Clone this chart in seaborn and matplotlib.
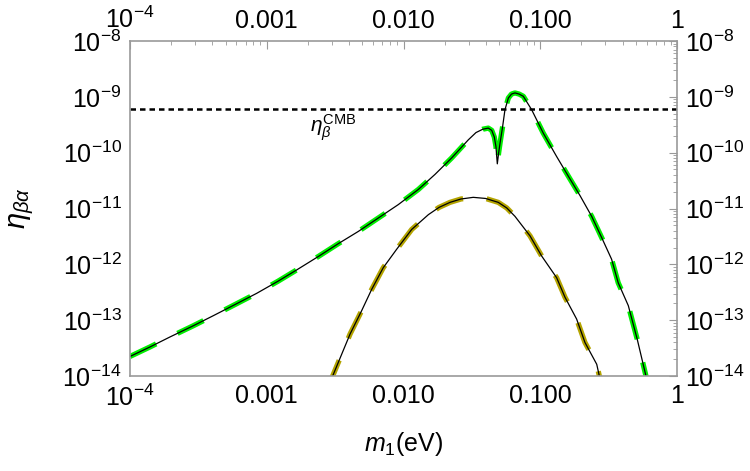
import numpy as np
import pandas as pd
import matplotlib
matplotlib.use('Agg')
import matplotlib.pyplot as plt
import matplotlib.ticker as mticker
import seaborn as sns

# values (log10 of m1 in eV, log10 of eta)
green_logm = [-4.0, -3.854, -3.707, -3.537, -3.391, -3.232, -3.074, -2.916, -2.781, -2.623,
              -2.477, -2.33, -2.184, -2.038, -1.892, -1.77, -1.648, -1.526, -1.47, -1.42, -1.38,
              -1.355, -1.336, -1.324, -1.314, -1.304, -1.294, -1.275, -1.258, -1.233, -1.21, -1.185,
              -1.155, -1.124, -1.063, -0.978, -0.88, -0.795, -0.709, -0.624, -0.551, -0.478, -0.43,
              -0.356, -0.29, -0.227, -0.21]
green_logy = [-13.65, -13.48, -13.3, -13.1, -12.92, -12.72, -12.52, -12.3, -12.1, -11.86,
              -11.63, -11.41, -11.17, -10.93, -10.66, -10.39, -10.095, -9.77, -9.64, -9.58, -9.56,
              -9.6, -9.72, -9.89, -10.2, -10.0, -9.83, -9.53, -9.23, -9.02, -8.95, -8.93,
              -8.95, -8.99, -9.23, -9.65, -10.07, -10.42, -10.77, -11.14, -11.52, -11.91, -12.33,
              -12.74, -13.35, -14.0, -14.2]

yellow_logm = [-2.55, -2.518, -2.452, -2.391, -2.306, -2.233, -2.148, -2.05, -1.94, -1.818,
               -1.74, -1.66, -1.58, -1.49, -1.4, -1.307, -1.245, -1.185, -1.075, -0.99, -0.88,
               -0.819, -0.734, -0.673, -0.587, -0.568, -0.55]
yellow_logy = [-14.2, -14.0, -13.61, -13.25, -12.83, -12.45, -12.06, -11.73, -11.375, -11.11,
               -10.98, -10.89, -10.83, -10.8, -10.82, -10.89, -10.99, -11.14, -11.49, -11.85, -12.24,
               -12.59, -12.98, -13.4, -13.79, -14.0, -14.15]

eta_cmb = 6.1e-10
x_ticks = [1e-4, 1e-3, 1e-2, 1e-1, 1]
x_labels = [r'$10^{-4}$', '0.001', '0.010', '0.100', '1']
y_ticks = [1e-14, 1e-13, 1e-12, 1e-11, 1e-10, 1e-9, 1e-8]
y_labels = [r'$10^{-%d}$' % k for k in range(14, 7, -1)]

sns.set_style('white')
plt.rcParams['font.family'] = ['Liberation Sans', 'DejaVu Sans']
plt.rcParams['mathtext.fontset'] = 'custom'
plt.rcParams['mathtext.rm'] = 'Liberation Sans'
plt.rcParams['mathtext.it'] = 'Liberation Sans:italic'
plt.rcParams['mathtext.bf'] = 'Liberation Sans:bold'
plt.rcParams['text.color'] = 'black'
plt.rcParams['axes.labelcolor'] = 'black'

green = pd.DataFrame({'m1': 10.0 ** np.array(green_logm), 'eta': 10.0 ** np.array(green_logy)})
yellow = pd.DataFrame({'m1': 10.0 ** np.array(yellow_logm), 'eta': 10.0 ** np.array(yellow_logy)})

fig = plt.figure(figsize=(7.5, 4.71), dpi=100)
ax = fig.add_axes([130 / 750, 1 - 376 / 471, (677 - 130) / 750, (376 - 41) / 471])
ax.set_xscale('log')
ax.set_yscale('log')

sns.lineplot(data=green, x='m1', y='eta', ax=ax, sort=False, estimator=None,
             color='#00ee00', linewidth=3.8, linestyle=(0, (5.5, 4.5)))
sns.lineplot(data=green, x='m1', y='eta', ax=ax, sort=False, estimator=None,
             color='black', linewidth=0.9)
sns.lineplot(data=yellow, x='m1', y='eta', ax=ax, sort=False, estimator=None,
             color='#b4a400', linewidth=3.8, linestyle=(0, (5.5, 4.5)))
sns.lineplot(data=yellow, x='m1', y='eta', ax=ax, sort=False, estimator=None,
             color='black', linewidth=0.9)
ax.axhline(eta_cmb, color='black', linewidth=1.8, linestyle=(0, (2.2, 1.6)))

ax.text(10 ** -2.516, 10 ** -9.55, r'$\eta_\beta^{\mathrm{CMB}}$', fontsize=15,
        ha='center', va='center')

ax.set_xlim(1e-4, 1)
ax.set_ylim(1e-14, 1e-8)

ax.set_xticks(x_ticks)
ax.set_xticklabels(x_labels)
ax.set_yticks(y_ticks)
ax.set_yticklabels(y_labels)
ax.xaxis.set_minor_locator(mticker.LogLocator(base=10, subs=np.arange(2, 10), numticks=20))
ax.yaxis.set_minor_locator(mticker.LogLocator(base=10, subs=np.arange(2, 10), numticks=20))
ax.xaxis.set_minor_formatter(mticker.NullFormatter())
ax.yaxis.set_minor_formatter(mticker.NullFormatter())

ax.tick_params(which='both', direction='in', top=True, right=True, labeltop=True, labelright=True,
               color='#999999', labelcolor='black', labelsize=18)
ax.tick_params(which='major', length=6, width=0.8, pad=6)
ax.tick_params(which='minor', length=3, width=0.6)
for s in ax.spines.values():
    s.set_color('#999999')
    s.set_linewidth(1.2)

ax.set_xlabel(r'$m_1$(eV)', fontsize=18, labelpad=14)
ax.set_ylabel(r'$\eta_{\beta\alpha}$', fontsize=21)
ax.yaxis.label.set_va('center')
ax.yaxis.set_label_coords(-0.198, 0.5)

fig.savefig('out.png', dpi=100)
